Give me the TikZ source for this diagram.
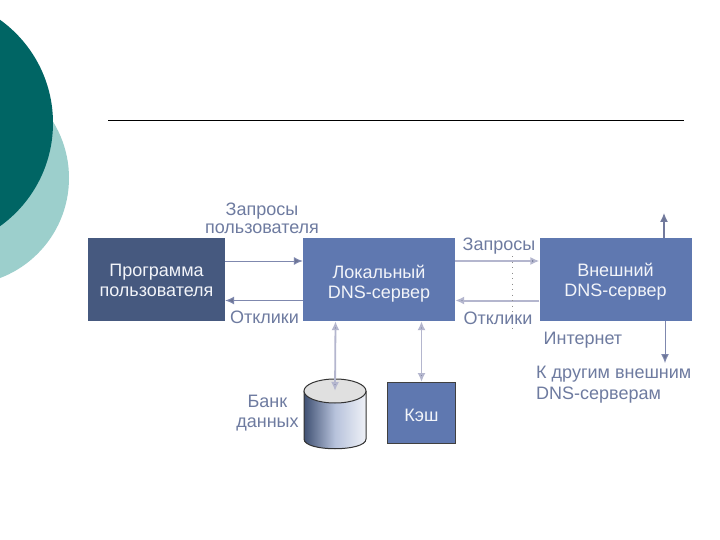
\documentclass[tikz,border=0pt]{standalone}
\usepackage{fontspec}
\setmainfont{Liberation Sans}
\usetikzlibrary{arrows.meta,shapes.geometric}
\definecolor{boxblue}{HTML}{5F78B0}
\definecolor{boxdark}{HTML}{46597F}
\definecolor{lbl}{HTML}{6E7BA0}
\definecolor{dkteal}{HTML}{006564}
\definecolor{ltteal}{HTML}{9CCFCC}
\definecolor{arrowc}{HTML}{7F88AE}
\definecolor{arrowl}{HTML}{B4B6CE}
\newcommand{\lowertext}[2]{\raisebox{-#1pt}[\height][\depth]{#2}}
\tikzset{
 x=1pt,y=-1pt,
 blockbox/.style={draw=none,fill=boxblue,text=white!92!boxblue,align=center,font=\fontsize{18}{20}\selectfont,inner sep=0pt},
 lab/.style={text=lbl,align=center,font=\fontsize{18}{20}\selectfont,inner sep=0pt},
 conn/.style={draw=arrowc,line width=1pt,-{Latex[length=9pt,width=8pt,fill=arrowc!85!black]}},
 connl/.style={draw=arrowl,line width=1.8pt,{Latex[length=9pt,width=8pt,fill=arrowc!85!black]}-{Latex[length=9pt,width=8pt,fill=arrowc!85!black]}},
}
\begin{document}
\begin{tikzpicture}
\useasboundingbox (0,0) rectangle (720,540);
\fill[white] (0,0) rectangle (720,540);
\begin{scope}
\clip (0,0) rectangle (720,540);
\fill[ltteal] (-38,178) circle[radius=107];
\fill[dkteal] (-74,123) circle[radius=127];
\end{scope}
\coordinate (ruleL) at (108,120.5);
\coordinate (ruleR) at (684,120.5);
\draw[black,line width=0.9pt] (ruleL) -- (ruleR);
% blocks
\node[blockbox,fill=boxdark,minimum width=137pt,minimum height=83pt] (prog) at (156.5,279.5) {\lowertext{1}{Программа}\\\lowertext{1}{пользователя}};
\node[blockbox,minimum width=152pt,minimum height=83pt] (local) at (379,279.5) {\lowertext{4}{Локальный}\\\lowertext{4}{DNS-сервер}};
\node[blockbox,minimum width=152pt,minimum height=83pt] (ext) at (615.5,279.5) {\lowertext{2}{Внешний}\\\lowertext{2}{DNS-сервер}};
\node[blockbox,draw=black!75,line width=1pt,minimum width=68pt,minimum height=61pt] (cache) at (421.5,413) {\lowertext{2}{Кэш}};
% database cylinder
\shade[left color=boxdark!90!black,right color=white!90!boxblue,middle color=boxblue!45!white] (304,391) -- (304,439) .. controls (304,452) and (366,452) .. (366,439) -- (366,391) -- cycle;
\draw[black!80,line width=1pt] (304,391) -- (304,439) .. controls (304,452) and (366,452) .. (366,439) -- (366,391);
\node[ellipse,draw=black!80,line width=1pt,fill=black!12,minimum width=62pt,minimum height=24pt,inner sep=0pt] (db) at (335,391) {};
% connectors
\draw[conn] ([yshift=18.5pt]prog.east) -- ([yshift=18.5pt]local.west);
\draw[conn] ([yshift=-21pt]local.west) -- ([yshift=-21pt]prog.east);
\draw[conn,draw=arrowl,line width=1.6pt] ([yshift=18.5pt]local.east) -- ([yshift=18.5pt]ext.west);
\draw[conn,draw=arrowl,line width=2pt] ([yshift=-21pt]ext.west) -- ([yshift=-21pt]local.east);
\coordinate (dbl) at ([xshift=-43.5pt]local.south);
\coordinate (cal) at ([xshift=42.5pt]local.south);
\draw[connl] (dbl) -- (db.center);
\draw[connl] (cal) -- (cache.north);
\coordinate (upend) at (664,213);
\coordinate (downend) at (665,363);
\draw[conn,line width=1.3pt,draw=arrowc!90!black] (ext.north -| upend) -- (upend);
\draw[conn] (ext.south -| downend) -- (downend);
\coordinate (dotT) at (512,256);
\coordinate (dotB) at (512,328);
\draw[black!45,line width=0.7pt,dash pattern=on 1pt off 4.5pt] (dotT) -- (dotB);
% labels
\node[lab,font=\fontsize{18}{18}\selectfont] (l1) at (262,218) {Запросы\\пользователя};
\node[lab] (l2) at (264.5,317) {Отклики};
\node[lab] (l3) at (499,246) {Запросы};
\node[lab] (l4) at (498,318) {Отклики};
\node[lab,anchor=west] (l5) at (543.5,340) {Интернет};
\node[lab,anchor=west,align=left,font=\fontsize{18}{21}\selectfont] (l6) at (536,385) {К другим внешним\\DNS-серверам};
\node[lab] (l7) at (267.5,413) {Банк\\данных};
\end{tikzpicture}
\end{document}
